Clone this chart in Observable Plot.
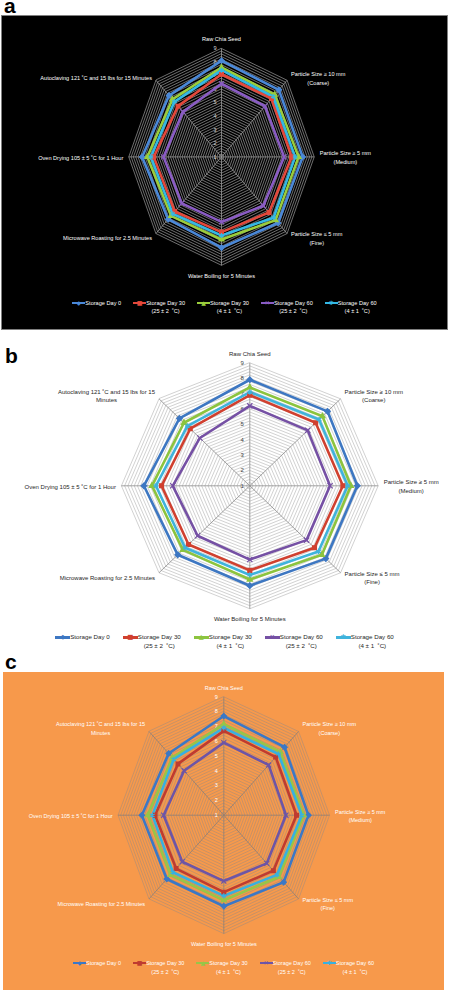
<!DOCTYPE html>
<html><head><meta charset="utf-8">
<script src="https://cdn.jsdelivr.net/npm/d3@7"></script>
<script src="https://cdn.jsdelivr.net/npm/@observablehq/plot@0.6"></script>
<style>
body{margin:0;background:#fff;}
#page{position:relative;width:449px;height:992px;overflow:hidden;font-family:"Liberation Sans",Arial,sans-serif;}
.letter{position:absolute;font-weight:bold;font-size:21px;line-height:12px;color:#000;z-index:5;}
.panel{position:absolute;box-sizing:border-box;overflow:hidden;}
.panel svg{position:absolute;left:0;top:0;}
.legend{position:absolute;left:0;display:flex;justify-content:center;align-items:flex-start;}
.item{display:flex;align-items:flex-start;}
.sw{position:relative;display:inline-block;flex:none;}
.sw .ln{position:absolute;left:0;right:0;}
.sw .mk{position:absolute;left:50%;transform:translate(-50%,-50%);font-family:"DejaVu Sans",sans-serif;line-height:1;}
.tx{text-align:center;white-space:nowrap;}
</style></head>
<body><div id="page"></div>
<script>
// ---------- data ----------
const categoriesA = ["Raw Chia Seed", "Particle Size ≥ 10 mm\n(Coarse)", "Particle Size ≥ 5 mm\n(Medium)", "Particle Size ≤ 5 mm\n(Fine)", "Water Boiling for 5 Minutes", "Microwave Roasting for 2.5 Minutes", "Oven Drying 105 ± 5 ˚C for 1 Hour", "Autoclaving 121 ˚C and 15 lbs for 15 Minutes"];
const categoriesBC = ["Raw Chia Seed", "Particle Size ≥ 10 mm\n(Coarse)", "Particle Size ≥ 5 mm\n(Medium)", "Particle Size ≤ 5 mm\n(Fine)", "Water Boiling for 5 Minutes", "Microwave Roasting for 2.5 Minutes", "Oven Drying 105 ± 5 ˚C for 1 Hour", "Autoclaving 121 ˚C and 15 lbs for 15\nMinutes"];
const seriesIds = ["day0", "day30_25", "day30_4", "day60_25", "day60_4"];
const seriesNames = ["Storage Day 0", "Storage Day 30", "Storage Day 30", "Storage Day 60", "Storage Day 60"];
const seriesConditions = ["", "(25 ± 2  ˚C)", "(4 ± 1  ˚C)", "(25 ± 2  ˚C)", "(4 ± 1  ˚C)"];
const tickValues = [1, 2, 3, 4, 5, 6, 7, 8, 9];

// panel a
const a_day0     = [8.1, 8.0, 8.0, 7.9, 7.7, 7.5, 7.85, 7.4];
const a_day30_25 = [7.1, 7.1, 7.05, 6.8, 6.55, 6.7, 6.85, 6.3];
const a_day30_4  = [7.6, 7.5, 7.65, 7.6, 7.1, 7.15, 7.4, 7.0];
const a_day60_25 = [6.4, 6.3, 6.4, 6.1, 5.8, 5.85, 6.0, 5.7];
const a_day60_4  = [7.4, 7.3, 7.35, 7.35, 6.8, 6.95, 7.1, 6.75];
// panel b
const b_day0     = [7.9, 7.85, 7.7, 7.7, 7.5, 7.35, 7.6, 7.2];
const b_day30_25 = [6.9, 6.8, 6.8, 6.7, 6.5, 6.4, 6.5, 6.25];
const b_day30_4  = [7.4, 7.4, 7.3, 7.35, 7.1, 6.9, 7.1, 6.8];
const b_day60_25 = [6.2, 6.1, 6.0, 6.0, 5.8, 5.6, 5.8, 5.4];
const b_day60_4  = [7.1, 7.1, 7.1, 7.05, 6.8, 6.7, 6.85, 6.5];
// panel c
const c_day0     = [7.7, 7.5, 7.4, 7.4, 7.15, 7.1, 7.2, 6.9];
const c_day30_25 = [6.7, 6.55, 6.5, 6.3, 6.2, 6.1, 6.2, 5.9];
const c_day30_4  = [7.15, 7.05, 7.05, 6.9, 6.75, 6.7, 6.75, 6.5];
const c_day60_25 = [5.9, 5.8, 5.7, 5.6, 5.45, 5.45, 5.55, 5.25];
const c_day60_4  = [6.9, 6.85, 6.9, 6.7, 6.45, 6.45, 6.4, 6.35];

const axisMin = 1, axisMax = 9, minorStep = 0.2;
const symbols = ["diamond2", "square2", "triangle2", "times", "asterisk"];
const glyphs = ["◆", "■", "▲", "✕", "✱"];

// ---------- drawing ----------
const FONT = '"Liberation Sans", Arial, sans-serif';
const ctx = document.createElement("canvas").getContext("2d");
function textWidth(s, size) {
  ctx.font = `${size}px ${FONT}`;
  return Math.max(...s.split("\n").map(l => ctx.measureText(l).width));
}

function radar(o) {
  const R = axisMax - axisMin;
  const n = o.labels.length;
  const ang = o.labels.map((_, i) => i * 2 * Math.PI / n);
  const pts = [];
  o.values.forEach((arr, s) => arr.forEach((v, i) => pts.push({series: seriesIds[s], i, v})));
  const px = d => (d.v - axisMin) * Math.sin(ang[d.i]);
  const py = d => (d.v - axisMin) * Math.cos(ang[d.i]);
  const rings = [];
  const nr = Math.round(R / minorStep);
  for (let k = 1; k <= nr; k++) ang.forEach((a, i) => rings.push({k, v: axisMin + k * minorStep, i}));
  const spokes = ang.map((a, i) => ({i, v: axisMax}));

  const labelMarks = o.labels.map((lab, i) => {
    const w = textWidth(lab, o.fontSize);
    const s = Math.round(Math.sin(ang[i]) * 1000) / 1000;
    const c = Math.round(Math.cos(ang[i]) * 1000) / 1000;
    let dx = 0, dy = 0;
    if (s === 0) dy = c > 0 ? -o.topOff : o.topOff;
    else {
      const diag = c !== 0;
      dx = Math.sign(s) * ((diag ? o.gapD : o.gapH) + w / 2);
      dy = diag ? (c > 0 ? -o.diagUp : o.diagDown) : 0;
    }
    return Plot.text([lab], {
      x: () => R * Math.sin(ang[i]), y: () => R * Math.cos(ang[i]), text: d => d,
      dx, dy, textAnchor: "middle", lineAnchor: "middle", lineHeight: o.lineHeight,
      fill: o.textColor, fontSize: o.fontSize
    });
  });

  return Plot.plot({
    width: o.W, height: o.H, margin: 0,
    x: {domain: [-R, R], range: [o.cx - R * o.ux, o.cx + R * o.ux], axis: null},
    y: {domain: [-R, R], range: [o.cy + R * o.uy, o.cy - R * o.uy], axis: null},
    color: {domain: seriesIds, range: o.colors},
    symbol: {domain: seriesIds, range: symbols},
    style: {background: "transparent", fontFamily: FONT, overflow: "visible"},
    marks: [
      Plot.line(rings, {x: d => (d.v - axisMin) * Math.sin(ang[d.i]), y: d => (d.v - axisMin) * Math.cos(ang[d.i]), z: "k", curve: "linear-closed", stroke: o.ringColor, strokeWidth: o.ringWidth, strokeOpacity: o.ringOpacity}),
      Plot.link(spokes, {x1: 0, y1: 0, x2: d => (d.v - axisMin) * Math.sin(ang[d.i]), y2: d => (d.v - axisMin) * Math.cos(ang[d.i]), stroke: o.spokeColor, strokeWidth: 0.8}),
      Plot.text(tickValues, {x: 0, y: d => d - axisMin, text: d => String(d), textAnchor: "end", dx: o.tickDx, fill: o.tickColor, fontSize: o.fontSize}),
      Plot.line(pts, {x: px, y: py, z: "series", stroke: "series", curve: "linear-closed", strokeWidth: o.lw, strokeLinejoin: "miter"}),
      Plot.dot(pts, {x: px, y: py, symbol: "series", fill: "series", stroke: "series", r: o.mr, strokeWidth: 1.2}),
      ...labelMarks
    ]
  });
}

function legend(o) {
  const div = document.createElement("div");
  div.className = "legend";
  div.style.width = o.W + "px";
  div.style.top = o.top + "px";
  div.style.gap = o.gap + "px";
  div.style.fontSize = o.fontSize + "px";
  div.style.lineHeight = o.lh + "px";
  div.style.color = o.textColor;
  seriesIds.forEach((id, s) => {
    const it = document.createElement("div");
    it.className = "item";
    const sw = document.createElement("span");
    sw.className = "sw";
    sw.style.width = o.swW + "px";
    sw.style.height = o.lh + "px";
    const ln = document.createElement("span");
    ln.className = "ln";
    ln.style.background = o.colors[s];
    ln.style.height = o.lw + "px";
    ln.style.top = (o.lh / 2 - o.lw / 2) + "px";
    const mk = document.createElement("span");
    mk.className = "mk";
    mk.textContent = glyphs[s];
    mk.style.color = o.colors[s];
    mk.style.fontSize = o.mkSize + "px";
    mk.style.top = (o.lh / 2) + "px";
    sw.append(ln, mk);
    const tx = document.createElement("div");
    tx.className = "tx";
    const l1 = document.createElement("div"); l1.textContent = seriesNames[s];
    tx.append(l1);
    if (seriesConditions[s]) { const l2 = document.createElement("div"); l2.textContent = seriesConditions[s]; l2.style.whiteSpace = "pre"; tx.append(l2); }
    it.append(sw, tx);
    div.append(it);
  });
  return div;
}

const page = document.getElementById("page");
function letter(t, left, top) {
  const d = document.createElement("div");
  d.className = "letter"; d.textContent = t;
  d.style.left = left + "px"; d.style.top = top + "px";
  page.append(d);
}
function panel(o) {
  const p = document.createElement("div");
  p.className = "panel";
  Object.assign(p.style, {left: o.left + "px", top: o.top + "px", width: o.W + "px", height: o.H + "px", background: o.bg, border: o.border || "none"});
  const bw = o.border ? 1 : 0;
  const svg = radar({...o, W: o.W - 2 * bw, H: o.H - 2 * bw, cx: o.cx - bw, cy: o.cy - bw});
  p.append(svg);
  p.append(legend({...o.leg, W: o.W - 2 * bw, colors: o.colors}));
  page.append(p);
}

// panel a
panel({
  left: 1, top: 15, W: 447, H: 315, bg: "#000", border: "1px solid #7f7f7f",
  cx: 220, cy: 141.4, ux: 11.59, uy: 13.55,
  values: [a_day0, a_day30_25, a_day30_4, a_day60_25, a_day60_4],
  labels: categoriesA,
  colors: ["#4a88d8", "#e3483b", "#9acd3c", "#8a5cc4", "#34b8e4"],
  ringColor: "#b0b0b0", ringWidth: 0.7, ringOpacity: 0.9, spokeColor: "#9a9a9a",
  textColor: "#ffffff", tickColor: "#d8d8d8", fontSize: 5.6, lineHeight: 1.6,
  tickDx: -5, topOff: 10, gapH: 5.5, gapD: 4, diagUp: 2.8, diagDown: 3.8,
  lw: 2.6, mr: 2.4,
  leg: {top: 282.5, gap: 12, fontSize: 5.6, lh: 8.6, textColor: "#ffffff", swW: 13, lw: 2.4, mkSize: 6}
});

// panel b
panel({
  left: 0, top: 332, W: 449, H: 322, bg: "#fff",
  cx: 249.3, cy: 153.3, ux: 16.05, uy: 15.37,
  values: [b_day0, b_day30_25, b_day30_4, b_day60_25, b_day60_4],
  labels: categoriesBC,
  colors: ["#3d77c2", "#d0402f", "#8cc43e", "#7550a4", "#3fb3dc"],
  ringColor: "#bdbdbd", ringWidth: 0.7, ringOpacity: 1, spokeColor: "#8a8a8a",
  textColor: "#262626", tickColor: "#404040", fontSize: 6, lineHeight: 1.4,
  tickDx: -6, topOff: 9.6, gapH: 5.5, gapD: 4, diagUp: 3.5, diagDown: 4.3,
  lw: 2.6, mr: 2.5,
  leg: {top: 301, gap: 13, fontSize: 6.2, lh: 8.7, textColor: "#262626", swW: 15, lw: 2.4, mkSize: 6.5}
});

// panel c
panel({
  left: 3, top: 672, W: 441, H: 318, bg: "#f7994b",
  cx: 220.3, cy: 142.7, ux: 13.22, uy: 14.8,
  values: [c_day0, c_day30_25, c_day30_4, c_day60_25, c_day60_4],
  labels: categoriesBC,
  colors: ["#3b78c6", "#bf3b30", "#97c548", "#6d55a6", "#37b1e0"],
  ringColor: "#9a8a80", ringWidth: 0.6, ringOpacity: 0.85, spokeColor: "#8a7f78",
  textColor: "#ffffff", tickColor: "#ffffff", fontSize: 5.5, lineHeight: 1.58,
  tickDx: -6, topOff: 10, gapH: 5.5, gapD: 4, diagUp: 3.5, diagDown: 4.3,
  lw: 2.6, mr: 2.4,
  leg: {top: 286.5, gap: 12, fontSize: 5.5, lh: 9, textColor: "#ffffff", swW: 13, lw: 2.4, mkSize: 6}
});

// panel letters (drawn last so they sit on top)
letter("a", 4, 0);
letter("b", 5, 350);
letter("c", 5, 655.5);
</script></body></html>
